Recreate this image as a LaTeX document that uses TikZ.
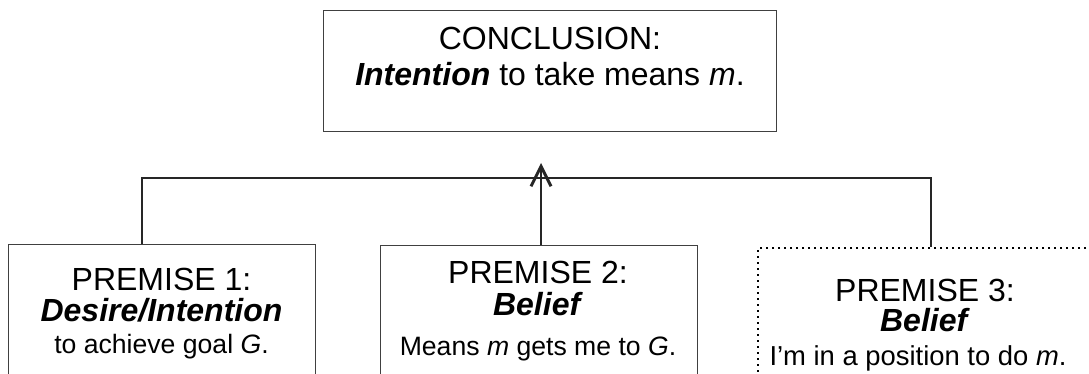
\documentclass[tikz,border=0pt]{standalone}
\usepackage{fontspec}
\setmainfont{Liberation Sans}
\usetikzlibrary{arrows.meta}
\begin{document}
\begin{tikzpicture}[x=1pt,y=-1pt,
  box/.style={draw=black!75, line width=1.3pt, inner sep=0pt, anchor=north west},
  dotbox/.style={draw=black, line width=2.4pt, dash pattern=on 2.2pt off 3.8pt, inner sep=0pt, anchor=north west},
  big/.style={font=\fontsize{32}{36}\selectfont, anchor=base, inner sep=0pt},
  small/.style={font=\fontsize{26.6}{30}\selectfont, anchor=base, inner sep=0pt},
  conn/.style={draw=black!85, line width=1.2pt}]
\useasboundingbox (0,0) rectangle (1089,374);
\clip (0,0) rectangle (1089,374);
% boxes
\node[box, minimum width=453pt, minimum height=121pt] (c) at (323,10) {};
\node[box, minimum width=307pt, minimum height=160pt] (p1) at (8,244) {};
\node[box, minimum width=317pt, minimum height=160pt] (p2) at (380,245) {};
\node[dotbox, minimum width=345pt, minimum height=160pt] (p3) at (757,247) {};
% texts
\node[big] (ct1) at (550,49.3) {CONCLUSION:};
\node[big] (ct2) at (550,85.7) {\textbf{\textit{Intention}} to take means \textit{m}.};
\node[big] (p1t1) at (161.5,290) {PREMISE 1:};
\node[big] (p1t2) at (161.5,321.7) {\textbf{\textit{Desire/Intention}}};
\node[small] (p1t3) at (161.5,353.3) {to achieve goal \textit{G}.};
\node[big] (p2t1) at (538,283.3) {PREMISE 2:};
\node[big] (p2t2) at (538,315.7) {\textbf{\textit{Belief}}};
\node[small] (p2t3) at (538,355) {Means \textit{m} gets me to \textit{G}.};
\node[big] (p3t1) at (925,301.7) {PREMISE 3:};
\node[big] (p3t2) at (925,331.7) {\textbf{\textit{Belief}}};
\node[small, font=\fontsize{27.4}{30}\selectfont] (p3t3) at (918,365) {I’m in a position to do \textit{m}.};
% connectors
\coordinate (hl) at (142,178);
\coordinate (hr) at (931,178);
\coordinate (tip) at (541,163);
\draw[conn] (p1.north -| hl) -- (hl) -- (hr) -- (p3.north -| hr);
\draw[conn, -{Straight Barb[length=20pt,width=20pt,line width=3pt]}] (p2.north -| tip) -- (tip);
\end{tikzpicture}
\end{document}
